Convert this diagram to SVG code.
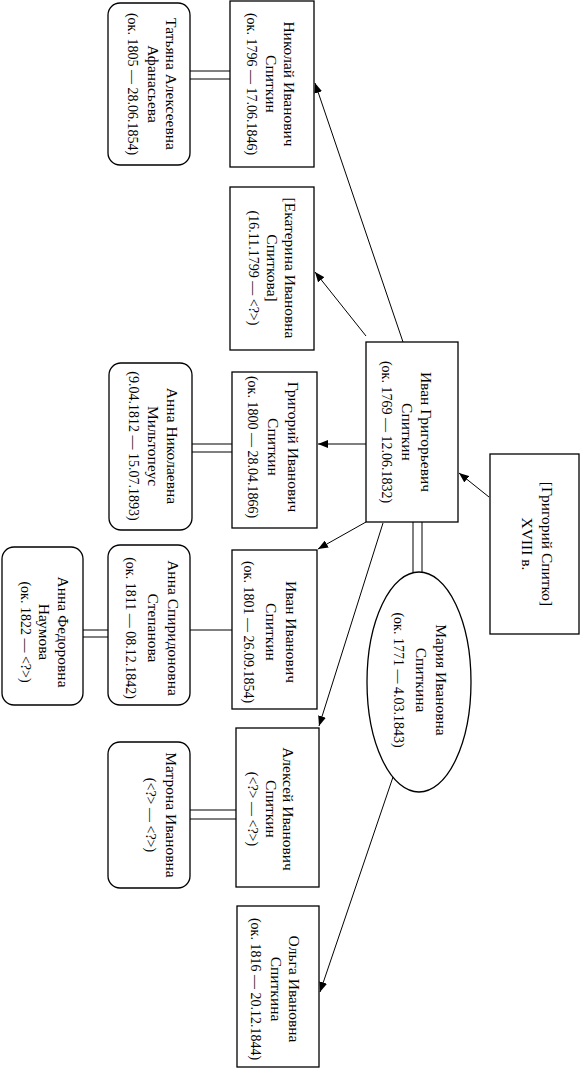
<svg xmlns="http://www.w3.org/2000/svg" width="580" height="1072" viewBox="0 0 580 1072">
<style>
.box{fill:#fff;stroke:#000;stroke-width:1.3}
.ln{fill:none;stroke:#000;stroke-width:1}
.t{font-family:"Liberation Serif","Times New Roman",serif;font-size:15.5px;fill:#000;text-anchor:middle}
.d{font-size:14px}
</style>
<defs>
<marker id="ah" markerUnits="userSpaceOnUse" markerWidth="10" markerHeight="8" refX="10" refY="4" orient="auto">
<path d="M0,0 L10,4 L0,8 z" fill="#000"/>
</marker>
</defs>
<rect width="580" height="1072" fill="#fff"/>
<g id="connectors">
<line class="ln" x1="190" y1="71" x2="230" y2="71"/>
<line class="ln" x1="190" y1="79" x2="230" y2="79"/>
<line class="ln" x1="192" y1="444" x2="232" y2="444"/>
<line class="ln" x1="192" y1="452" x2="232" y2="452"/>
<line class="ln" x1="190" y1="630" x2="232" y2="630"/>
<line class="ln" x1="83" y1="630" x2="108" y2="630"/>
<line class="ln" x1="83" y1="637" x2="108" y2="637"/>
<line class="ln" x1="190" y1="810" x2="236" y2="810"/>
<line class="ln" x1="190" y1="819" x2="236" y2="819"/>
<line class="ln" x1="413" y1="522" x2="413" y2="573"/>
<line class="ln" x1="422" y1="522" x2="422" y2="573"/>
<line class="ln" x1="489" y1="497" x2="459" y2="473" marker-end="url(#ah)"/>
<line class="ln" x1="403" y1="342" x2="315" y2="83" marker-end="url(#ah)"/>
<line class="ln" x1="366" y1="336" x2="315" y2="272" marker-end="url(#ah)"/>
<line class="ln" x1="366" y1="444" x2="318" y2="444" marker-end="url(#ah)"/>
<line class="ln" x1="366" y1="522" x2="318" y2="549" marker-end="url(#ah)"/>
<line class="ln" x1="383" y1="523" x2="319" y2="726" marker-end="url(#ah)"/>
<line class="ln" x1="393" y1="777" x2="320" y2="992" marker-end="url(#ah)"/>
</g>
<g id="nikolai">
<rect class="box" x="230" y="1" width="84" height="166"/>
<text class="t" transform="translate(283.5,84) rotate(90)"><tspan x="0" y="0">Николай Иванович</tspan><tspan x="0" y="18">Спиткин</tspan><tspan class="d" x="0" y="37">(ок. 1796 — 17.06.1846)</tspan></text>
</g>
<g id="tatiana">
<rect class="box" x="108" y="3" width="82" height="162" rx="12"/>
<text class="t" transform="translate(165.5,84) rotate(90)"><tspan x="0" y="0">Татьяна Алексеевна</tspan><tspan x="0" y="18">Афанасьева</tspan><tspan class="d" x="0" y="38">(ок. 1805 — 28.06.1854)</tspan></text>
</g>
<g id="ekaterina">
<rect class="box" x="230" y="187" width="84" height="163"/>
<text class="t" transform="translate(284.5,268) rotate(90)"><tspan x="0" y="0">[Екатерина Ивановна</tspan><tspan x="0" y="18">Спиткова]</tspan><tspan class="d" x="0" y="36">(16.11.1799 — &lt;?&gt;)</tspan></text>
</g>
<g id="ivan-gr">
<rect class="box" x="366" y="342" width="92" height="180"/>
<text class="t" transform="translate(421,432) rotate(90)"><tspan x="0" y="0">Иван Григорьевич</tspan><tspan x="0" y="19">Спиткин</tspan><tspan class="d" x="0" y="39">(ок. 1769 — 12.06.1832)</tspan></text>
</g>
<g id="grigory-sp">
<rect class="box" x="490" y="454" width="89" height="180"/>
<text class="t" transform="translate(541.5,544) rotate(90)"><tspan x="0" y="0">[Григорий Спитко]</tspan><tspan x="0" y="20">XVIII в.</tspan></text>
</g>
<g id="grigory-iv">
<rect class="box" x="232" y="372" width="85" height="156"/>
<text class="t" transform="translate(287.5,447) rotate(90)"><tspan x="0" y="0">Григорий Иванович</tspan><tspan x="0" y="20">Спиткин</tspan><tspan class="d" x="0" y="40">(ок. 1800 — 28.04.1866)</tspan></text>
</g>
<g id="anna-n">
<rect class="box" x="109" y="363" width="83" height="167" rx="12"/>
<text class="t" transform="translate(166.5,446) rotate(90)"><tspan x="0" y="0">Анна Николаевна</tspan><tspan x="0" y="19">Мильтопеус</tspan><tspan class="d" x="0" y="38">(9.04.1812 — 15.07.1893)</tspan></text>
</g>
<g id="ivan-iv">
<rect class="box" x="232" y="550" width="85" height="159"/>
<text class="t" transform="translate(285.5,632) rotate(90)"><tspan x="0" y="0">Иван Иванович</tspan><tspan x="0" y="20">Спиткин</tspan><tspan class="d" x="0" y="42">(ок. 1801 — 26.09.1854)</tspan></text>
</g>
<g id="anna-s">
<rect class="box" x="108" y="545" width="82" height="160" rx="12"/>
<text class="t" transform="translate(167.5,628) rotate(90)"><tspan x="0" y="0">Анна Спиридоновна</tspan><tspan x="0" y="20">Степанова</tspan><tspan class="d" x="0" y="42">(ок. 1811 — 08.12.1842)</tspan></text>
</g>
<g id="anna-f">
<rect class="box" x="2" y="547" width="81" height="158" rx="12"/>
<text class="t" transform="translate(57.5,632) rotate(90)"><tspan x="0" y="0">Анна Федоровна</tspan><tspan x="0" y="19">Наумова</tspan><tspan class="d" x="0" y="37">(ок. 1822 — &lt;?&gt;)</tspan></text>
</g>
<g id="maria">
<ellipse class="box" cx="419" cy="682" rx="52" ry="110"/>
<text class="t" transform="translate(435.5,680) rotate(90)"><tspan x="0" y="0">Мария Ивановна</tspan><tspan x="0" y="20">Спиткина</tspan><tspan class="d" x="0" y="42">(ок. 1771 — 4.03.1843)</tspan></text>
</g>
<g id="alexei">
<rect class="box" x="236" y="728" width="83" height="159"/>
<text class="t" transform="translate(282.5,809) rotate(90)"><tspan x="0" y="0">Алексей Иванович</tspan><tspan x="0" y="17">Спиткин</tspan><tspan class="d" x="0" y="35">(&lt;?&gt; — &lt;?&gt;)</tspan></text>
</g>
<g id="matrona">
<rect class="box" x="108" y="742" width="82" height="146" rx="12"/>
<text class="t" transform="translate(165.5,815) rotate(90)"><tspan x="0" y="0">Матрона Ивановна</tspan><tspan class="d" x="0" y="20">(&lt;?&gt; — &lt;?&gt;)</tspan></text>
</g>
<g id="olga">
<rect class="box" x="237" y="906" width="82" height="161"/>
<text class="t" transform="translate(288.5,989) rotate(90)"><tspan x="0" y="0">Ольга Ивановна</tspan><tspan x="0" y="18">Спиткина</tspan><tspan class="d" x="0" y="38">(ок. 1816 — 20.12.1844)</tspan></text>
</g>
</svg>
